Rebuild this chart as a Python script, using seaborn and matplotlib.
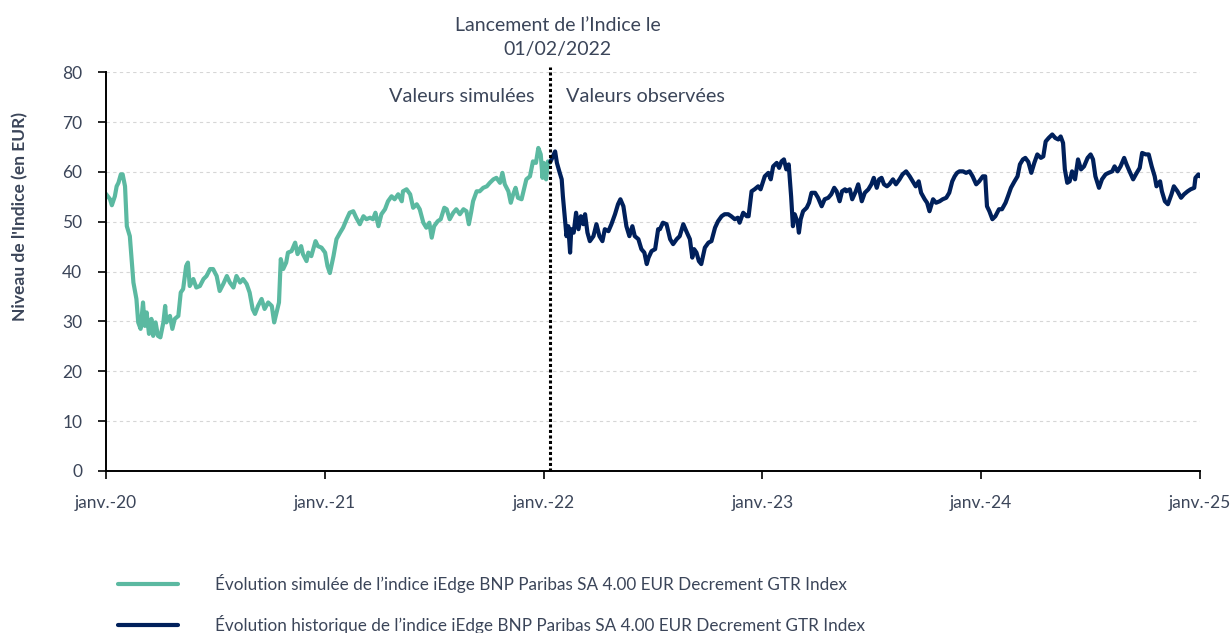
import matplotlib
matplotlib.use("Agg")
import matplotlib.pyplot as plt
import pandas as pd
import seaborn as sns

# days since 1 Jan 2020
sim_days = [
    0, 7, 10, 15, 18, 21, 25, 28, 32, 35, 40, 46, 51, 54, 58, 62, 65, 68, 72, 76,
    79, 83, 87, 91, 96, 99, 101, 107, 111, 115, 121, 125, 129, 134, 137, 140, 146, 151, 157, 163,
    168, 174, 179, 185, 190, 196, 202, 207, 213, 218, 224, 229, 235, 240, 245, 249, 254, 260, 265, 271,
    277, 281, 285, 289, 292, 296, 301, 304,
    310, 316, 320, 326, 329, 335, 338, 343, 350, 354, 360, 366, 370, 374, 380, 385, 391, 396, 402, 407,
    413, 418, 424, 430, 435, 441, 446, 450, 455, 460, 466, 471, 477, 482, 488, 494, 496, 502, 508, 513,
    519, 524, 530, 535, 540, 544, 548, 554, 559, 565, 569, 574, 580, 585, 591, 597, 602, 606,
    610, 613, 619, 624, 630, 636, 641, 647, 652, 658, 662, 666, 672, 676, 680, 684, 688, 694, 698, 702,
    708, 713, 718, 722, 726, 729, 731, 735, 738, 741,
]
sim_vals = [
    55.6, 54.5, 53.3, 55.1, 57.1, 57.8, 59.5, 59.5, 57.1, 49.1, 47.1, 37.8, 34.5, 29.8, 28.5, 33.8, 29.1, 31.8, 27.5, 30.5,
    27.1, 29.8, 27.1, 26.8, 29.8, 33.1, 29.8, 31.1, 28.5, 30.5, 31.1, 35.8, 36.5, 41.1, 41.8, 37.1, 38.5, 36.8, 37.1, 38.5,
    39.1, 40.5, 40.5, 39.1, 36.1, 37.5, 39.1, 37.8, 36.8, 39.1, 37.8, 38.5, 37.5, 35.8, 32.5, 31.5, 33.1, 34.5, 32.5, 33.8,
    33.1, 29.8, 31.8, 33.8, 42.5, 40.5, 41.8, 43.8,
    44.1, 45.8, 43.5, 45.1, 43.5, 42.1, 43.8, 43.1, 46.1, 45.1, 44.8, 43.8, 41.1, 39.7, 43.1, 46.5, 47.8, 48.8, 50.5, 51.8,
    52.1, 50.8, 49.5, 51.1, 50.5, 50.8, 50.5, 51.8, 49.1, 51.5, 52.5, 54.1, 55.1, 54.5, 55.5, 54.1, 56.1, 56.5, 55.5, 52.8,
    53.5, 52.5, 49.8, 48.8, 49.8, 46.8, 49.1, 50.1, 50.5, 52.8, 52.5, 50.5, 51.8, 52.5, 51.5, 52.5, 52.1, 49.5,
    52.0, 54.1, 56.1, 56.1, 56.8, 57.1, 57.8, 58.5, 58.8, 57.8, 59.8, 57.5, 56.1, 53.8, 55.5, 56.8, 54.8, 54.5, 56.5, 58.5,
    59.1, 62.1, 61.8, 64.8, 63.5, 58.8, 61.8, 58.5, 62.1, 61.8,
]

hist_days = [
    742, 744, 750, 753, 757, 761, 763, 766, 769, 772, 775, 777, 781, 785, 789, 793, 797, 800, 804, 808,
    814, 819, 824, 829, 833, 839, 844, 850, 855, 859, 864, 869, 874, 879, 883, 889, 894, 899, 903, 906,
    911, 917, 922,
    925, 930, 936, 942, 947, 953, 958, 964, 969, 975, 979, 982, 986, 990, 994, 1000, 1006, 1011, 1017, 1022,
    1028, 1033, 1039, 1044, 1050, 1055, 1058, 1064, 1070, 1073, 1078, 1083, 1089, 1093, 1100, 1106, 1110, 1114, 1120, 1124,
    1128, 1132, 1136, 1140, 1144, 1147, 1150, 1155, 1157, 1160, 1164, 1170, 1174, 1178, 1184, 1189, 1195, 1200, 1206, 1211,
    1216, 1220, 1225, 1229, 1234,
    1236, 1242, 1246, 1252, 1256, 1262, 1267, 1273, 1278, 1282, 1287, 1291, 1295, 1299, 1304, 1308, 1314, 1319, 1325, 1330,
    1336, 1342, 1347, 1352, 1357, 1361, 1367, 1371, 1375, 1381, 1386, 1392, 1397, 1403, 1408, 1413, 1417, 1421, 1425, 1431,
    1436, 1442, 1447, 1453, 1458, 1464, 1468, 1471, 1475, 1480, 1485, 1491, 1496, 1502, 1506, 1511, 1517, 1522, 1526, 1531,
    1535,
    1540, 1545, 1550, 1555, 1561, 1565, 1569, 1574, 1580, 1585, 1590, 1594, 1598, 1601, 1605, 1609, 1613, 1618, 1623, 1628,
    1633, 1639, 1644, 1648, 1652, 1658, 1663, 1669, 1674, 1680, 1684, 1689, 1694, 1700, 1704, 1709, 1715, 1721, 1726, 1730,
    1736, 1741, 1746, 1751, 1754, 1760, 1763, 1768, 1773, 1779, 1783, 1789, 1795, 1800, 1806, 1811, 1817, 1819, 1824, 1827,
]
hist_vals = [
    62.0, 62.5, 64.1, 61.8, 60.1, 58.5, 55.1, 51.1, 47.1, 49.1, 43.8, 48.5, 47.8, 51.8, 48.5, 51.1, 49.5, 51.5, 47.8, 46.1,
    47.1, 49.5, 47.1, 46.1, 48.5, 48.1, 49.5, 51.5, 53.5, 54.5, 53.1, 49.1, 47.1, 49.1, 47.1, 46.5, 44.5, 43.8, 41.5, 42.8,
    44.1, 44.5, 48.5,
    48.5, 49.8, 49.5, 46.5, 45.5, 46.5, 47.1, 49.5, 48.1, 46.5, 42.8, 44.5, 43.8, 42.1, 41.5, 44.8, 45.8, 46.1, 48.8, 50.1,
    51.1, 51.5, 51.5, 51.1, 50.5, 50.8, 49.8, 51.8, 51.1, 51.1, 56.1, 56.5, 57.1, 56.5, 59.1, 59.8, 58.5, 61.1, 61.8, 60.8,
    62.1, 62.5, 60.5, 61.5, 55.1, 49.1, 51.5, 49.8, 47.8, 50.5, 52.1, 52.8, 53.8, 55.8, 55.8, 54.8, 53.1, 54.5, 54.8, 55.5,
    56.8, 56.1, 54.1, 56.1, 56.5,
    56.1, 56.5, 54.5, 56.1, 57.5, 54.1, 55.8, 56.5, 57.5, 58.8, 56.8, 58.5, 58.8, 57.5, 57.1, 57.5, 58.5, 57.5, 58.5, 59.5,
    60.1, 59.1, 58.1, 57.1, 58.1, 55.8, 54.5, 53.8, 52.1, 54.5, 53.8, 54.1, 54.5, 54.8, 55.8, 58.1, 59.1, 59.8, 60.1, 60.1,
    59.8, 60.1, 59.1, 57.5, 58.1, 59.1, 59.1, 53.1, 52.1, 50.5, 51.1, 52.5, 52.5, 53.8, 55.1, 56.8, 58.1, 59.1, 61.5, 62.5,
    62.8,
    62.0, 59.8, 61.8, 63.5, 62.8, 63.1, 66.1, 66.8, 67.5, 66.8, 66.5, 67.1, 65.8, 60.5, 57.8, 58.1, 60.1, 58.5, 62.5, 60.5,
    61.1, 62.8, 63.5, 62.5, 59.1, 56.8, 58.5, 59.5, 59.8, 60.1, 61.1, 60.1, 61.1, 62.8, 61.5, 60.1, 58.5, 59.8, 60.8, 63.8,
    63.5, 63.5, 61.1, 59.1, 57.1, 58.1, 56.1, 54.1, 53.5, 55.5, 57.1, 56.1, 54.8, 55.5, 56.1, 56.5, 56.8, 58.8, 59.5, 59.1,
]

tick_dates = ["2020-01-01", "2021-01-01", "2022-01-01", "2023-01-01", "2024-01-01", "2025-01-01"]
tick_labels = ["janv.-20", "janv.-21", "janv.-22", "janv.-23", "janv.-24", "janv.-25"]
y_ticks = [0, 10, 20, 30, 40, 50, 60, 70, 80]

sim_label = "Évolution simulée de l’indice iEdge BNP Paribas SA 4.00 EUR Decrement GTR Index"
hist_label = "Évolution historique de l’indice iEdge BNP Paribas SA 4.00 EUR Decrement GTR Index"

GREEN = "#5bb9a1"
NAVY = "#00205b"
TEXT = "#3b4559"

sns.set_theme(style="white")
plt.rcParams["font.family"] = ["Lato", "DejaVu Sans"]

start = pd.Timestamp("2020-01-01")
sim = pd.DataFrame({"date": start + pd.to_timedelta(sim_days, unit="D"), "value": sim_vals})
hist = pd.DataFrame({"date": start + pd.to_timedelta(hist_days, unit="D"), "value": hist_vals})

fig = plt.figure(figsize=(12.31, 6.33), dpi=100)
ax = fig.add_axes([0.086, 0.256, 0.889, 0.630])

sns.lineplot(data=sim, x="date", y="value", color=GREEN, linewidth=3, ax=ax, label=sim_label)
sns.lineplot(data=hist, x="date", y="value", color=NAVY, linewidth=3, ax=ax, label=hist_label)

# launch date separator
ax.axvline(hist["date"].iloc[0], ymin=0, ymax=1.012, color="black",
           linestyle=(0, (1, 0.8)), linewidth=2.2, clip_on=False, zorder=5)

ax.set_xlim(pd.Timestamp(tick_dates[0]), pd.Timestamp(tick_dates[-1]))
ax.set_ylim(0, 80)
ax.set_xticks(pd.to_datetime(tick_dates))
ax.set_xticklabels(tick_labels)
ax.set_yticks(y_ticks)

ax.yaxis.grid(True, linestyle=(0, (3, 3)), color="#d6d6d6", linewidth=0.8)
ax.xaxis.grid(False)
for side in ["top", "right"]:
    ax.spines[side].set_visible(False)
for side in ["left", "bottom"]:
    ax.spines[side].set_color("black")
    ax.spines[side].set_linewidth(1.4)

ax.tick_params(axis="both", direction="out", length=6, width=1.2, color="black",
               labelcolor=TEXT, labelsize=12.5, pad=11, left=True, bottom=True)

ax.set_xlabel("")
ax.set_ylabel("Niveau de l'Indice (en EUR)", fontsize=12.5, fontweight="bold", color=TEXT)
ax.yaxis.set_label_coords(-0.071, 0.637)

ax.text(0.413, 1.086, "Lancement de l’Indice le\n01/02/2022", transform=ax.transAxes,
        ha="center", va="center", fontsize=14, color=TEXT, linespacing=1.5)
ax.text(0.392, 0.94, "Valeurs simulées", transform=ax.transAxes,
        ha="right", va="center", fontsize=14.3, color=TEXT)
ax.text(0.4205, 0.94, "Valeurs observées", transform=ax.transAxes,
        ha="left", va="center", fontsize=14.3, color=TEXT)

handles, labels = ax.get_legend_handles_labels()
ax.get_legend().remove()
leg = fig.legend(handles, labels, loc="upper left", bbox_to_anchor=(0.0959, 0.093),
                 frameon=False, fontsize=12.3, handlelength=3.5, handletextpad=2.2,
                 labelspacing=1.3, borderpad=0, borderaxespad=0)
for text in leg.get_texts():
    text.set_color(TEXT)
for line in leg.get_lines():
    line.set_linewidth(3)

fig.savefig("out.png", dpi=100)
